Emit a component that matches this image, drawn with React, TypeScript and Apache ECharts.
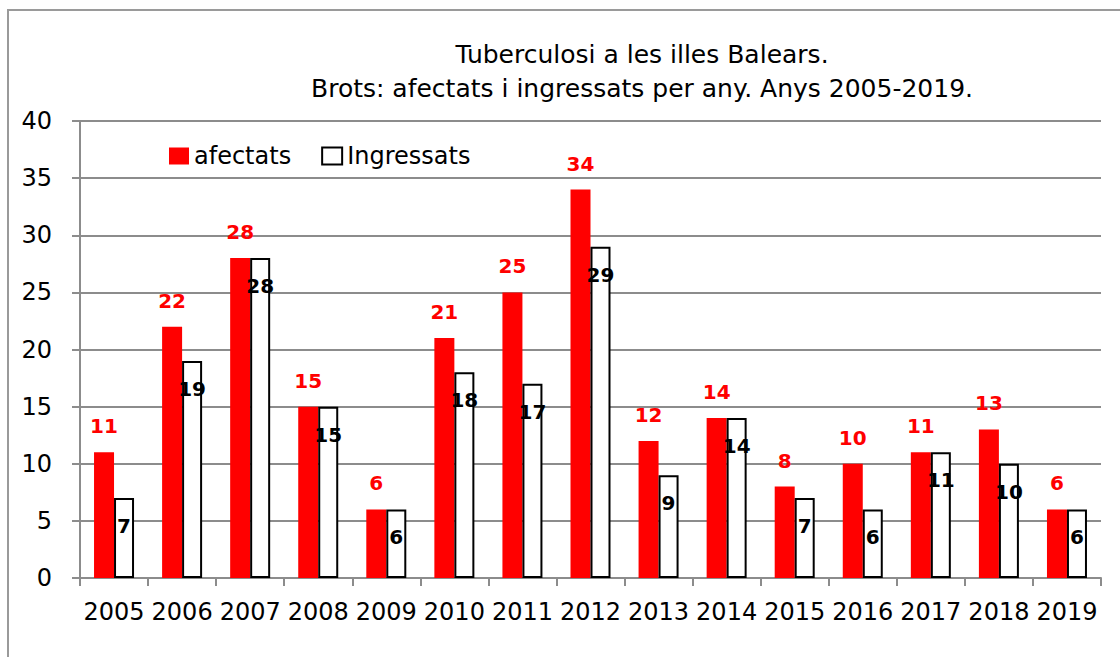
import React, { useEffect, useRef } from "react";
import * as echarts from "echarts";

const years = ["2005", "2006", "2007", "2008", "2009", "2010", "2011", "2012", "2013", "2014", "2015", "2016", "2017", "2018", "2019"];
const afectats = [11, 22, 28, 15, 6, 21, 25, 34, 12, 14, 8, 10, 11, 13, 6];
const ingressats = [7, 19, 28, 15, 6, 18, 17, 29, 9, 14, 7, 6, 11, 10, 6];
const titleText = "Tuberculosi a les illes Balears.\nBrots: afectats i ingressats per any. Anys 2005-2019.";

const FONT = "DejaVu Sans";
const GRAY = "#8c8c8c";

export default function App() {
  const ref = useRef<HTMLDivElement>(null);
  useEffect(() => {
    if (!ref.current) return;
    const chart = echarts.init(ref.current, undefined, { renderer: "svg" });
    chart.setOption({
      animation: false,
      backgroundColor: "#fff",
      textStyle: { fontFamily: FONT },
      title: {
        text: titleText,
        left: 642,
        top: 37,
        padding: 0,
        textAlign: "center",
        textStyle: { fontSize: 25, fontWeight: "normal", color: "#000", lineHeight: 34, fontFamily: FONT },
      },
      graphic: [
        {
          type: "rect",
          shape: { x: 8, y: 10, width: 1130, height: 700 },
          style: { fill: "none", stroke: "#9a9a9a", lineWidth: 2 },
          silent: true,
        },
      ],
      legend: {
        left: 169,
        top: 144,
        padding: 0,
        itemWidth: 20,
        itemHeight: 17,
        itemGap: 30,
        textStyle: { fontSize: 24, color: "#000", fontFamily: FONT },
        data: [
          { name: "afectats", icon: "rect", itemStyle: { color: "#ff0000", borderWidth: 0 } },
          { name: "Ingressats", icon: "rect", itemStyle: { color: "#fff", borderColor: "#000", borderWidth: 2 } },
        ],
      },
      grid: { left: 80, right: 19, top: 121, bottom: 79, containLabel: false },
      xAxis: {
        type: "category",
        data: years,
        axisLine: { show: true, lineStyle: { color: GRAY, width: 2 } },
        axisTick: { show: true, length: 8, interval: 0, lineStyle: { color: GRAY, width: 2 } },
        axisLabel: { interval: 0, fontSize: 24, color: "#000", margin: 22, fontFamily: FONT },
      },
      yAxis: {
        type: "value",
        min: 0,
        max: 40,
        interval: 5,
        axisLine: { show: true, lineStyle: { color: GRAY, width: 2 } },
        axisTick: { show: true, length: 8, lineStyle: { color: GRAY, width: 2 } },
        axisLabel: { fontSize: 24, color: "#000", margin: 28, fontFamily: FONT },
        splitLine: { show: true, lineStyle: { color: GRAY, width: 2 } },
      },
      series: [
        {
          name: "afectats",
          type: "bar",
          data: afectats,
          barWidth: 20,
          barGap: "0%",
          itemStyle: { color: "#ff0000" },
          label: {
            show: true,
            position: "top",
            distance: 16,
            color: "#ff0000",
            fontWeight: "bold",
            fontSize: 20,
            fontFamily: FONT,
          },
        },
        {
          name: "Ingressats",
          type: "bar",
          data: ingressats,
          barWidth: 20,
          barGap: "0%",
          itemStyle: { color: "#fff", borderColor: "#000", borderWidth: 2 },
          label: {
            show: true,
            position: "insideTop",
            distance: 18,
            color: "#000",
            fontWeight: "bold",
            fontSize: 20,
            textBorderWidth: 0,
            fontFamily: FONT,
          },
        },
      ],
    });
    return () => chart.dispose();
  }, []);
  return (
    <div
      ref={ref}
      style={{ position: "fixed", left: 0, top: 0, width: 1120, height: 657, background: "#fff" }}
    />
  );
}
